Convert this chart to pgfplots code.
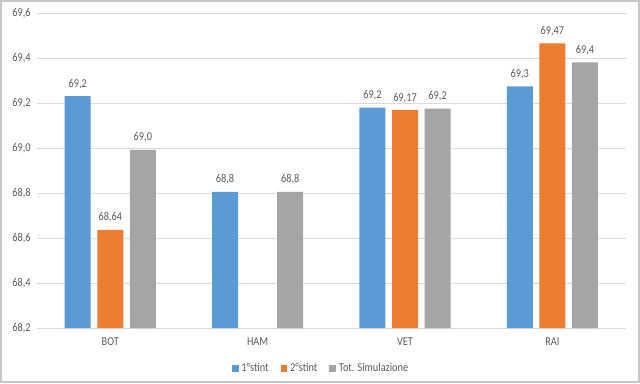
\documentclass[border=0pt]{standalone}
\usepackage{pgfplots}
\pgfplotsset{compat=1.18}
\usepackage{fontspec}
\setmainfont{Carlito}[FakeStretch=0.86]
\definecolor{cblue}{HTML}{5B9BD5}
\definecolor{corange}{HTML}{ED7D31}
\definecolor{cgray}{HTML}{A5A5A5}
\definecolor{ctext}{HTML}{595959}
\definecolor{cgrid}{HTML}{D9D9D9}
\begin{document}
\begin{tikzpicture}
\path[use as bounding box] (0,0) rectangle (480pt,287.25pt);
\draw[color=black!22, line width=1.2pt] (0.6pt,0.6pt) rectangle (479.4pt,286.65pt);
\begin{axis}[
  at={(27.45pt,41.25pt)}, anchor=south west,
  scale only axis, width=442.1pt, height=236pt,
  ybar=4.95pt, bar width=19.5pt,
  xmin=-0.5, xmax=3.5, ymin=68.2, ymax=69.6,
  xtick={0,1,2,3}, xticklabels={BOT,HAM,VET,RAI},
  ytick={68.2,68.4,68.6,68.8,69.0,69.2,69.4,69.6},
  axis line style={draw=none},
  major tick length=0pt,
  ymajorgrids, grid style={cgrid, line width=0.75pt},
  /pgf/number format/assume math mode=true,
  yticklabel style={/pgf/number format/.cd, fixed, fixed zerofill, precision=1, use comma, /tikz/.cd, font=\fontsize{9pt}{10pt}\selectfont, text=ctext, anchor=east, xshift=-1pt},
  xticklabel style={font=\fontsize{9pt}{10pt}\selectfont, text=ctext, yshift=-4pt},
  nodes near coords,
  point meta=explicit symbolic,
  every node near coord/.append style={font=\fontsize{9pt}{10pt}\selectfont, text=ctext, anchor=south, yshift=2pt},
  legend style={at={(0.483,-0.095)}, anchor=north, draw=none, legend columns=3, font=\fontsize{9pt}{10pt}\selectfont, text=ctext, /tikz/every even column/.append style={column sep=7pt}},
  legend image code/.code={\fill[#1] (0pt,-2.6pt) rectangle (5.2pt,2.6pt);},
  clip=false,
]
\addplot[fill=cblue, draw=none] coordinates {(0,69.232) [69,2] (1,68.806) [68,8] (2,69.181) [69,2] (3,69.275) [69,3]};
\addplot[fill=corange, draw=none] coordinates {(0,68.637) [68,64] (2,69.169) [69,17] (3,69.466) [69,47]};
\addplot[fill=cgray, draw=none] coordinates {(0,68.993) [69,0] (1,68.806) [68,8] (2,69.176) [69,2] (3,69.382) [69,4]};
\legend{1°stint, 2°stint, Tot. Simulazione}
\end{axis}
\end{tikzpicture}
\end{document}
